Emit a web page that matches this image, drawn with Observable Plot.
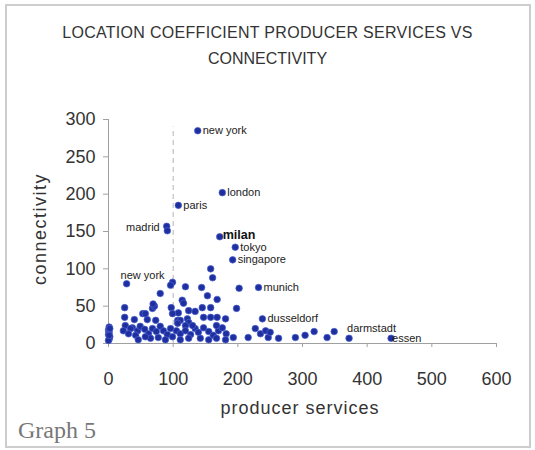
<!DOCTYPE html>
<html>
<head>
<meta charset="utf-8">
<script src="https://cdn.jsdelivr.net/npm/d3@7"></script>
<script src="https://cdn.jsdelivr.net/npm/@observablehq/plot@0.6"></script>
<style>
  html, body { margin: 0; padding: 0; background: #fff; }
  #wrap { position: relative; width: 535px; height: 450px; overflow: hidden; font-family: "Liberation Sans", Arial, sans-serif; }
  #frame { position: absolute; left: 5px; top: 4px; width: 522px; height: 440px; border: 2px solid #cdcdcd; }
  .t { position: absolute; line-height: 1; white-space: nowrap; color: #333; }
  #chart { position: absolute; left: 0; top: 0; }
</style>
</head>
<body>
<div id="wrap">
  <div id="frame"></div>
  <div id="chart"></div>
  <div class="t" id="title1" style="left:0;width:535px;text-align:center;top:25px;font-size:16px;letter-spacing:0.3px;">LOCATION COEFFICIENT PRODUCER SERVICES VS</div>
  <div class="t" id="title2" style="left:0;width:535px;text-align:center;top:51px;font-size:16px;">CONNECTIVITY</div>
  <div class="t" id="xlab" style="left:200px;width:200px;text-align:center;top:399px;font-size:18px;letter-spacing:1px;">producer services</div>
  <div class="t" id="ylab" style="left:-60px;width:200px;text-align:center;top:220px;font-size:18px;letter-spacing:1.5px;transform:rotate(-90deg);">connectivity</div>
  <div class="t" id="graph" style="left:18px;top:418px;font-size:24px;font-family:'Liberation Serif','Times New Roman',serif;color:#777;">Graph 5</div>
</div>
<script>
// Named cities (labelled points)
const cityNames = ["new york", "london", "paris", "madrid", "", "milan", "tokyo", "singapore", "munich", "dusseldorf", "darmstadt", "essen", "new york"];
const cityServices = [138, 176, 108, 90, 91, 172, 196, 192, 232, 238, 372, 437, 28];
const cityConnectivity = [285, 202, 185, 157, 151, 143, 129, 112, 75, 33, 7, 7, 80];

// Other (unlabelled) cities
const otherServices = [158,161,99,96,80,144,153,202,119,114,116,168,25,68,71,97,108,124,134,145,158,198,53,25,40,60,73,107,122,147,158,168,181,26,37,23,34,45,111,124,107,119,227,235,243,247,250,263,289,193,216,304,318,338,349,
  49,56,62,68,74,80,85,91,65,77,88,99,105,111,119,127,134,139,147,155,162,170,176,182,142,155,167,181,42,31,46,57,111,124,130,96,167,57,99,69,
  1,0,1,0,2,1,0,2,1];
const otherConnectivity = [100,88,82,78,67,75,64,74,76,58,54,59,48,47,50,48,41,44,43,48,48,47,40,35,32,32,31,31,33,35,35,35,33,24,21,17,20,17,31,28,27,24,20,13,17,8,15,7,8,8,8,11,16,8,16,
  23,19,13,20,16,23,17,12,7,8,5,9,17,13,17,12,20,15,21,16,11,17,21,13,7,5,7,5,11,13,5,9,5,7,24,20,24,40,40,53,
  22,18,15,12,9,6,4,20,11];

const xTicks = [0, 100, 200, 300, 400, 500, 600];
const yTicks = [0, 50, 100, 150, 200, 250, 300];
const referenceServices = 100;

const cities = cityNames.map((n, i) => ({name: n, x: cityServices[i], y: cityConnectivity[i], i}));
const others = otherServices.map((x, i) => ({x, y: otherConnectivity[i]}));
const allPoints = others.concat(cities);

// label placement groups (by index in cities)
const rightIdx = [0, 1, 2, 6, 7, 8, 9];
const labelFont = {fontSize: 11, fill: "#222", fontFamily: "Liberation Sans, Arial, sans-serif"};

const chart = Plot.plot({
  width: 535,
  height: 450,
  marginLeft: 108,
  marginRight: 39,
  marginTop: 119,
  marginBottom: 107,
  style: {background: "transparent", fontFamily: "Liberation Sans, Arial, sans-serif", color: "#333"},
  x: {domain: [0, 600]},
  y: {domain: [0, 300]},
  marks: [
    Plot.ruleX([referenceServices], {y1: 0, y2: 290, stroke: "#b5b5b5", strokeDasharray: "5,4"}),
    Plot.ruleY([0], {stroke: "#a0a0a0"}),
    Plot.ruleX([0], {stroke: "#a0a0a0"}),
    Plot.axisX({ticks: xTicks, tickSize: 4, tickPadding: 25, fontSize: 18, label: null, stroke: "#a0a0a0", fill: "#333"}),
    Plot.axisY({ticks: yTicks, tickSize: 5, tickPadding: 8, fontSize: 18, label: null, stroke: "#a0a0a0", fill: "#333"}),
    Plot.dot(allPoints, {x: "x", y: "y", r: 3.3, fill: "#1f2f9f", stroke: "#4a63d0", strokeWidth: 0.7}),
    Plot.text(cities.filter(d => rightIdx.includes(d.i)), {x: "x", y: "y", text: "name", textAnchor: "start", dx: 5, ...labelFont}),
    Plot.text(cities.filter(d => d.name === "milan"), {x: "x", y: "y", text: "name", textAnchor: "start", dx: 3, dy: -2, fontSize: 12.5, fontWeight: "bold", fill: "#111"}),
    Plot.text(cities.filter(d => d.name === "madrid"), {x: "x", y: "y", text: "name", textAnchor: "end", dx: -7, dy: 1, ...labelFont}),
    Plot.text(cities.filter(d => d.i === 12), {x: "x", y: "y", text: "name", textAnchor: "start", dx: -6, dy: -8, ...labelFont}),
    Plot.text(cities.filter(d => d.name === "darmstadt"), {x: "x", y: "y", text: "name", textAnchor: "start", dx: -2, dy: -10, ...labelFont}),
    Plot.text(cities.filter(d => d.name === "essen"), {x: "x", y: "y", text: "name", textAnchor: "start", dx: 1, ...labelFont})
  ]
});
document.getElementById("chart").appendChild(chart);
</script>
</body>
</html>
